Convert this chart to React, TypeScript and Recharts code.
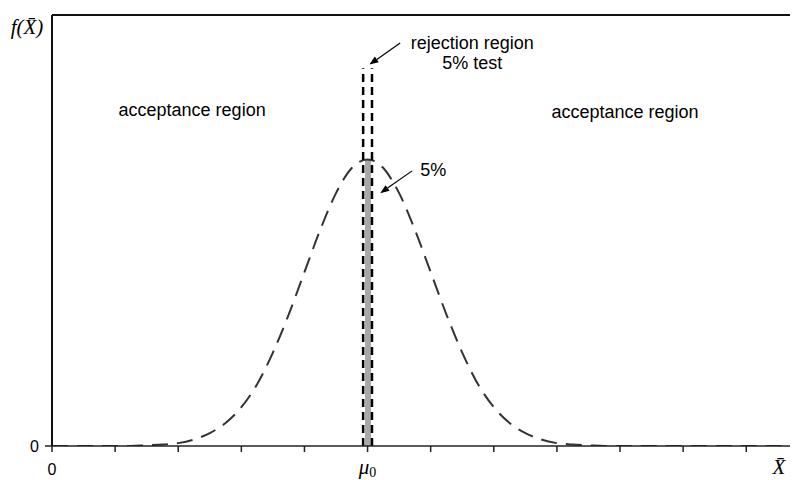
import React from "react";
import {
  ComposedChart,
  Line,
  XAxis,
  YAxis,
  ReferenceLine,
  ReferenceArea,
  ReferenceDot,
} from "recharts";

// sample mean axis, mu0 sits at 5
const xValues: number[] = [
  0, 0.25, 0.5, 0.75, 1, 1.25, 1.5, 1.75, 2, 2.25, 2.5, 2.75, 3, 3.25, 3.5,
  3.75, 4, 4.25, 4.5, 4.75, 5, 5.25, 5.5, 5.75, 6, 6.25, 6.5, 6.75, 7, 7.25,
  7.5, 7.75, 8, 8.25, 8.5, 8.75, 9, 9.25, 9.5, 9.75, 10, 10.25, 10.5, 10.75,
  11, 11.25, 11.5, 11.82,
];
const density: number[] = [
  0, 0, 0, 0, 0, 0, 0.001, 0.002, 0.004, 0.009, 0.018, 0.032, 0.054, 0.086,
  0.13, 0.183, 0.242, 0.301, 0.352, 0.387, 0.399, 0.387, 0.352, 0.301, 0.242,
  0.183, 0.13, 0.086, 0.054, 0.032, 0.018, 0.009, 0.004, 0.002, 0.001, 0, 0,
  0, 0, 0, 0, 0, 0, 0, 0, 0, 0, 0,
];
const xTicks: number[] = [0, 1, 2, 3, 4, 5, 6, 7, 8, 9, 10, 11];

const MU0 = 5;
const PEAK = 0.399;
const rejectLeft = 4.93;
const rejectRight = 5.07;
const rejectTop = 0.526;
const barLeft = 4.96;
const barRight = 5.055;

const data = xValues.map((x, i) => ({ x, f: density[i] }));

const textFont = "'Liberation Sans', Arial, sans-serif";
const mathFont = "'Liberation Serif', 'Times New Roman', serif";

const XTick = (props: any) => {
  const { x, y, payload } = props;
  if (payload.value === 0) {
    return (
      <text x={x} y={y + 21} textAnchor="middle" fontSize={16} fontFamily={textFont} fill="#000">
        0
      </text>
    );
  }
  if (payload.value === MU0) {
    return (
      <text x={x} y={y + 20} textAnchor="middle" fontSize={21} fontFamily={mathFont} fontStyle="italic" fill="#000">
        μ<tspan fontSize={14} dy={3} fontStyle="normal">0</tspan>
      </text>
    );
  }
  return null;
};

const YTick = (props: any) => {
  const { x, y, payload } = props;
  return (
    <text x={x - 4} y={y + 6} textAnchor="end" fontSize={16} fontFamily={textFont} fill="#000">
      {payload.value}
    </text>
  );
};

const Arrow = (props: any) => {
  const { x1, y1, x2, y2 } = props;
  const ang = Math.atan2(y2 - y1, x2 - x1);
  const len = 9;
  const w = 3.5;
  const bx = x2 - len * Math.cos(ang);
  const by = y2 - len * Math.sin(ang);
  const px = -Math.sin(ang) * w;
  const py = Math.cos(ang) * w;
  return (
    <g>
      <line x1={x1} y1={y1} x2={bx} y2={by} stroke="#000" strokeWidth={1.2} />
      <polygon points={`${x2},${y2} ${bx + px},${by + py} ${bx - px},${by - py}`} fill="#000" />
    </g>
  );
};

const Note = ({ text, size = 18 }: { text: string; size?: number }) => (props: any) => {
  const { viewBox } = props;
  const cx = viewBox.x + (viewBox.width || 0) / 2;
  const cy = viewBox.y + (viewBox.height || 0) / 2;
  return (
    <text x={cx} y={cy} textAnchor="middle" dominantBaseline="central" fontSize={size} fontFamily={textFont} fill="#000">
      {text}
    </text>
  );
};

export default function App() {
  return (
    <ComposedChart
      width={790}
      height={472}
      data={data}
      margin={{ top: 7, right: 0, left: 0, bottom: 0 }}
    >
      <XAxis
        dataKey="x"
        type="number"
        domain={[0, 11.82]}
        ticks={xTicks}
        interval={0}
        allowDataOverflow
        tick={<XTick />}
        tickSize={6}
        height={34}
        axisLine={{ stroke: "#222", strokeWidth: 1.5 }}
        tickLine={{ stroke: "#222", strokeWidth: 1.5 }}
      />
      <YAxis
        type="number"
        domain={[0, 0.6]}
        ticks={[0]}
        width={44}
        tick={<YTick />}
        tickSize={7}
        axisLine={{ stroke: "#111", strokeWidth: 2 }}
        tickLine={{ stroke: "#222", strokeWidth: 1.5 }}
        allowDataOverflow
      />
      <ReferenceLine y={0.6} stroke="#111" strokeWidth={2} />
      <ReferenceArea
        x1={barLeft}
        x2={barRight}
        y1={0}
        y2={PEAK}
        fill="#a8a8a8"
        fillOpacity={1}
        stroke="none"
      />
      <Line
        type="monotone"
        dataKey="f"
        stroke="#333"
        strokeWidth={2}
        strokeDasharray="16 9"
        dot={false}
        isAnimationActive={false}
      />
      <ReferenceLine
        segment={[{ x: rejectLeft, y: 0 }, { x: rejectLeft, y: rejectTop }]}
        stroke="#000"
        strokeWidth={2.5}
        strokeDasharray="8 5"
      />
      <ReferenceLine
        segment={[{ x: rejectRight, y: 0 }, { x: rejectRight, y: rejectTop }]}
        stroke="#000"
        strokeWidth={2.5}
        strokeDasharray="8 5"
      />
      <ReferenceLine
        segment={[{ x: 5.516, y: 0.561 }, { x: 5.03, y: 0.531 }]}
        shape={<Arrow />}
      />
      <ReferenceLine
        segment={[{ x: 5.706, y: 0.383 }, { x: 5.2, y: 0.352 }]}
        shape={<Arrow />}
      />
      <ReferenceDot x={2.22} y={0.468} r={0} label={Note({ text: "acceptance region" })} />
      <ReferenceDot x={9.08} y={0.465} r={0} label={Note({ text: "acceptance region" })} />
      <ReferenceDot x={6.66} y={0.561} r={0} label={Note({ text: "rejection region" })} />
      <ReferenceDot x={6.66} y={0.533} r={0} label={Note({ text: "5% test" })} />
      <ReferenceDot x={6.04} y={0.384} r={0} label={Note({ text: "5%" })} />
      <ReferenceDot
        x={0}
        y={0.6}
        r={0}
        ifOverflow="visible"
        label={(props: any) => (
          <text
            x={props.viewBox.x - 25}
            y={props.viewBox.y + 19}
            textAnchor="middle"
            fontSize={21}
            fontFamily={mathFont}
            fontStyle="italic"
            fill="#000"
          >
            f(X̄)
          </text>
        )}
      />
      <ReferenceDot
        x={11.5}
        y={0}
        r={0}
        ifOverflow="visible"
        label={(props: any) => (
          <text
            x={props.viewBox.x + 1}
            y={props.viewBox.y + 28}
            textAnchor="middle"
            fontSize={21}
            fontFamily={mathFont}
            fontStyle="italic"
            fill="#000"
          >
            X̄
          </text>
        )}
      />
    </ComposedChart>
  );
}
